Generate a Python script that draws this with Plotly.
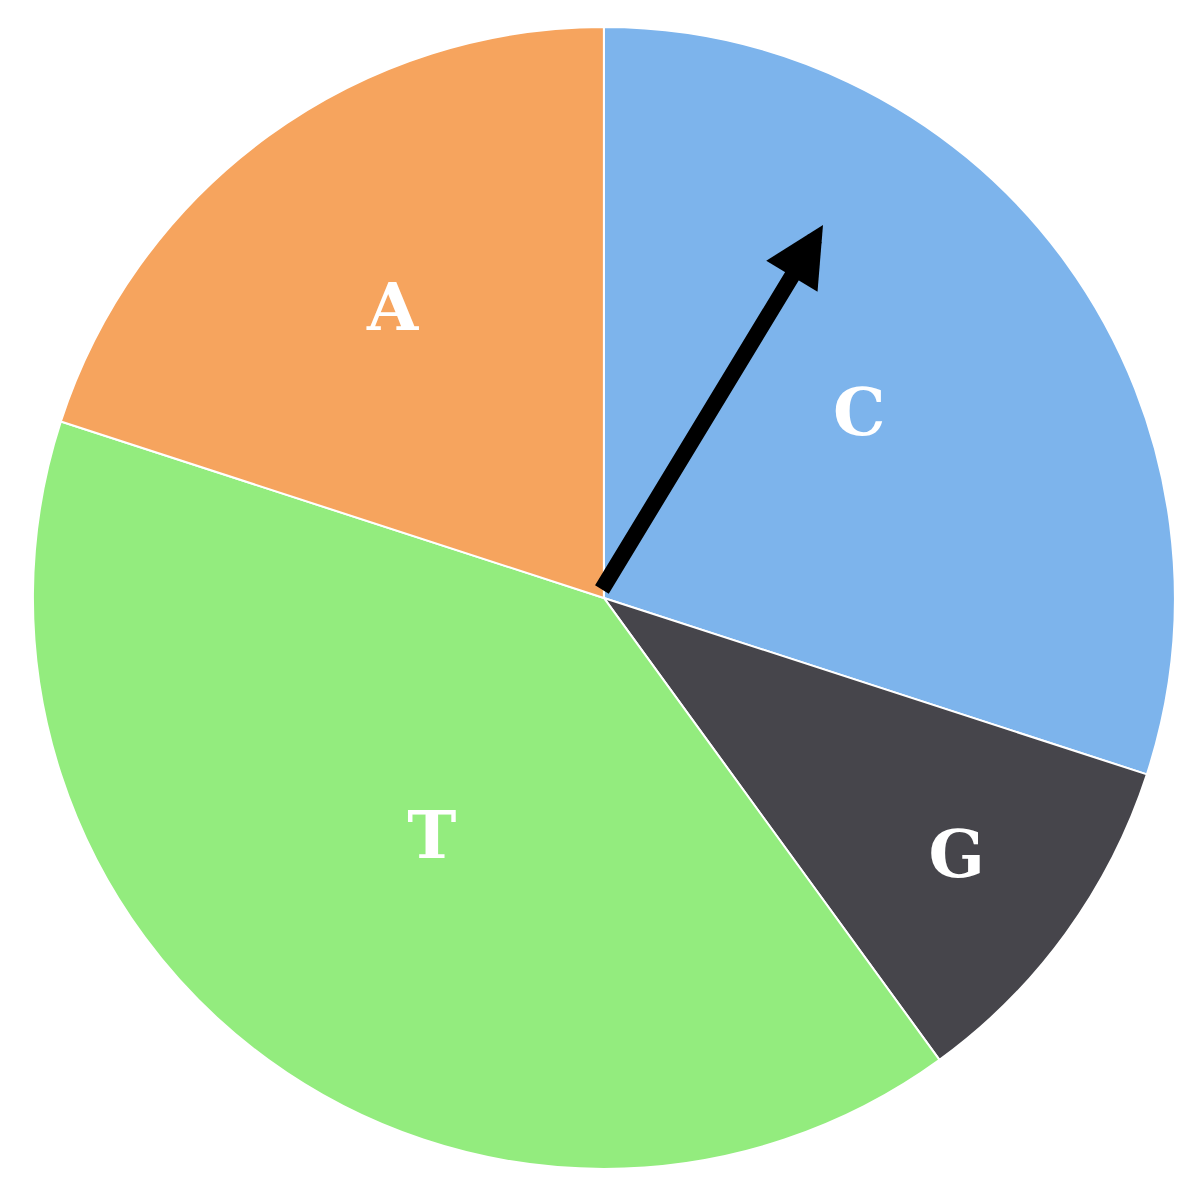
import plotly.graph_objects as go

bases = ["C", "G", "T", "A"]
counts = [30, 10, 40, 20]
colors = ["#7DB4EC", "#46454B", "#93EC7E", "#F6A45E"]

# arrow tip and tail, in pixels from the top-left corner
arrow_tip = (815, 217)
arrow_tail = (593, 583)

W = H = 1187

fig = go.Figure()
fig.add_trace(go.Pie(
    labels=bases,
    values=counts,
    sort=False,
    direction="clockwise",
    rotation=0,
    marker=dict(colors=colors, line=dict(color="white", width=2)),
    textinfo="label",
    textposition="inside",
    insidetextorientation="horizontal",
    textfont=dict(family="DejaVu Serif", size=66, color="white", weight="bold"),
    hoverinfo="label+percent",
    showlegend=False,
    domain=dict(x=[0.021, 0.983], y=[0.022, 0.984]),
))

# arrow pointing from the centre into the C slice
fig.add_annotation(
    x=arrow_tip[0] / W, y=1 - arrow_tip[1] / H, xref="paper", yref="paper",
    ax=arrow_tail[0] - arrow_tip[0], ay=arrow_tail[1] - arrow_tip[1],
    axref="pixel", ayref="pixel",
    showarrow=True, arrowhead=2, arrowsize=0.75, arrowwidth=16, arrowcolor="black",
    text="",
)

fig.update_layout(
    width=W, height=H,
    margin=dict(l=0, r=0, t=0, b=0),
    paper_bgcolor="white",
    plot_bgcolor="white",
)

fig.write_html("out.html")
